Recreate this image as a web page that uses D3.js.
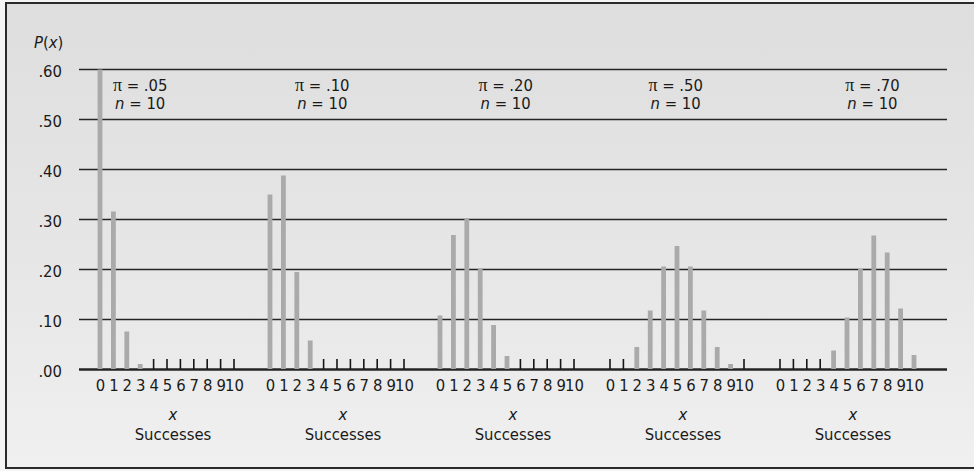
<!DOCTYPE html>
<html>
<head>
<meta charset="utf-8">
<script src="https://cdn.jsdelivr.net/npm/d3@7"></script>
<style>
  html, body { margin: 0; padding: 0; background: #f3f3f3; }
  svg { display: block; }
  text { font-family: "DejaVu Sans Condensed", "Liberation Sans Narrow", Arial, sans-serif; fill: #1a1a1a; }
</style>
</head>
<body>
<svg id="chart" width="974" height="471"></svg>
<script>
// ---- data ----
const successes = [0, 1, 2, 3, 4, 5, 6, 7, 8, 9, 10];
const piLabels = [".05", ".10", ".20", ".50", ".70"];
const nValue = 10;
const probPi05 = [0.599, 0.315, 0.075, 0.010, 0, 0, 0, 0, 0, 0, 0];
const probPi10 = [0.349, 0.387, 0.194, 0.057, 0, 0, 0, 0, 0, 0, 0];
const probPi20 = [0.107, 0.268, 0.302, 0.201, 0.088, 0.026, 0, 0, 0, 0, 0];
const probPi50 = [0, 0, 0.044, 0.117, 0.205, 0.246, 0.205, 0.117, 0.044, 0.010, 0];
const probPi70 = [0, 0, 0, 0, 0.037, 0.103, 0.200, 0.267, 0.233, 0.121, 0.028];
const yTicks = [0, 0.1, 0.2, 0.3, 0.4, 0.5, 0.6];
const labelAnchorX = [3.0, 3.9, 4.9, 4.9, 6.9]; // annotation centre, in x units of each panel
const seriesList = [probPi05, probPi10, probPi20, probPi50, probPi70];

// ---- layout ----
const FONT = "'DejaVu Sans Condensed', 'Liberation Sans Narrow', Arial, sans-serif";
const FS = 16.5;
const svg = d3.select("#chart");
const W = 974, H = 471;
const gridLeft = 79, gridRight = 947;
const y = d3.scaleLinear().domain([0, 0.6]).range([369, 69]);
const panelX = d3.scaleLinear().domain([0, 4]).range([100, 780]);
const panelWidth = 134;

// background (scanned page)
const defs = svg.append("defs");
const grad = defs.append("linearGradient").attr("id", "bg").attr("x1", 0).attr("y1", 0).attr("x2", 0).attr("y2", 1);
grad.append("stop").attr("offset", "0%").attr("stop-color", "#dedede");
grad.append("stop").attr("offset", "60%").attr("stop-color", "#e7e7e7");
grad.append("stop").attr("offset", "100%").attr("stop-color", "#f0f0f0");
svg.append("rect").attr("x", 0).attr("y", 0).attr("width", W).attr("height", H).attr("fill", "#f4f4f4");
svg.append("rect").attr("x", 6).attr("y", 3).attr("width", W + 10).attr("height", 465).attr("fill", "url(#bg)");
// frame (left, top, bottom)
svg.append("path")
  .attr("d", `M${W + 5},3 H6 V468 H${W + 5}`)
  .attr("fill", "none").attr("stroke", "#2a2a2a").attr("stroke-width", 2);

// y axis with gridlines
const yAxis = d3.axisLeft(y)
  .tickValues(yTicks)
  .tickSize(-(gridRight - gridLeft))
  .tickPadding(17)
  .tickFormat(d => d3.format(".2f")(d).replace(/^0/, ""));
const gy = svg.append("g").attr("transform", `translate(${gridLeft},0)`).call(yAxis);
gy.select(".domain").remove();
gy.selectAll(".tick line")
  .attr("stroke", "#242424")
  .attr("stroke-width", d => d === 0 ? 2.4 : 1.5);
gy.selectAll(".tick text")
  .attr("font-size", FS)
  .attr("fill", "#1a1a1a")
  .attr("dy", "0.45em")
  .style("font-family", FONT);

// P(x) label
const pLabel = svg.append("text").attr("x", 34).attr("y", 48).attr("font-size", FS);
pLabel.append("tspan").attr("font-style", "italic").text("P");
pLabel.append("tspan").text("(");
pLabel.append("tspan").attr("font-style", "italic").text("x");
pLabel.append("tspan").text(")");

// panels
seriesList.forEach((vals, p) => {
  const x0 = panelX(p);
  const x = d3.scaleLinear().domain([0, 10]).range([x0, x0 + panelWidth]);
  const g = svg.append("g");

  // bars
  g.selectAll("rect.bar")
    .data(successes.filter(k => vals[k] > 0))
    .join("rect")
    .attr("class", "bar")
    .attr("x", k => x(k) - 2.4)
    .attr("width", 4.8)
    .attr("y", k => y(vals[k]))
    .attr("height", k => y(0) - y(vals[k]))
    .attr("fill", "#aaaaaa");

  // zero-probability ticks
  g.selectAll("line.zero")
    .data(successes.filter(k => vals[k] === 0))
    .join("line")
    .attr("class", "zero")
    .attr("x1", k => x(k)).attr("x2", k => x(k))
    .attr("y1", y(0)).attr("y2", y(0) - 10)
    .attr("stroke", "#151515").attr("stroke-width", 1.6);

  // x axis labels
  const xAxis = d3.axisBottom(x).tickValues(successes).tickSize(0).tickPadding(10).tickFormat(d3.format("d"));
  const gx = svg.append("g").attr("transform", `translate(0,${y(0)})`).call(xAxis);
  gx.select(".domain").remove();
  gx.selectAll(".tick text")
    .attr("font-size", FS)
    .attr("fill", "#1a1a1a")
    .style("font-family", FONT);

  // axis title
  const cx = x(5) + 6;
  svg.append("text").attr("x", cx).attr("y", 420).attr("text-anchor", "middle")
    .attr("font-size", FS).attr("font-style", "italic").text("x");
  svg.append("text").attr("x", cx).attr("y", 440).attr("text-anchor", "middle")
    .attr("font-size", FS).text("Successes");

  // annotation
  const ax = x(labelAnchorX[p]);
  const t1 = svg.append("text").attr("x", ax).attr("y", 91).attr("text-anchor", "middle").attr("font-size", FS);
  t1.append("tspan").style("font-family", "'Liberation Serif', 'DejaVu Serif', serif").attr("font-size", 18).text("\u03C0");
  t1.append("tspan").text(" = " + piLabels[p]);
  const t2 = svg.append("text").attr("x", ax).attr("y", 109).attr("text-anchor", "middle").attr("font-size", FS);
  t2.append("tspan").attr("font-style", "italic").text("n");
  t2.append("tspan").text(" = " + nValue);
});
</script>
</body>
</html>
